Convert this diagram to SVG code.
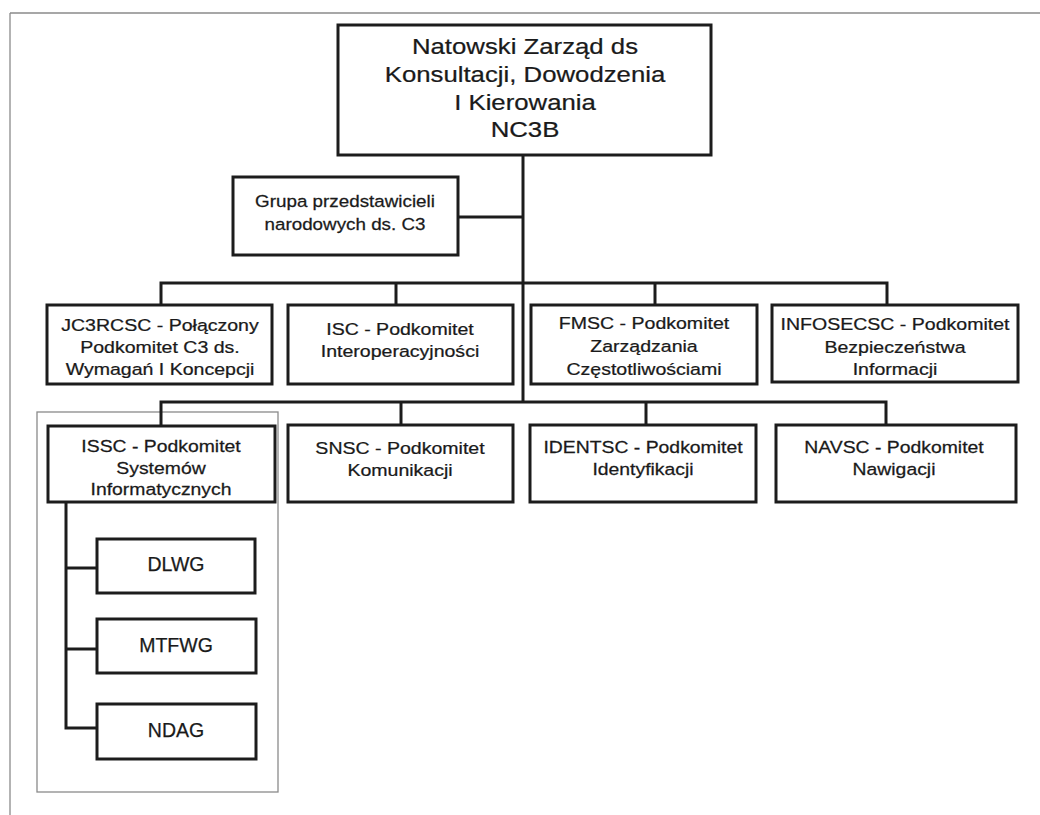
<svg xmlns="http://www.w3.org/2000/svg" width="1040" height="815" viewBox="0 0 1040 815">
<style>
.box{fill:#fff;stroke:#1c1c1c;stroke-width:3}
.ln{stroke:#1c1c1c;stroke-width:3;fill:none}
.frame{stroke:#8a8a8a;stroke-width:1.3;fill:none}
text{font-family:"Liberation Sans",Arial,sans-serif;fill:#1a1a1a;text-anchor:middle;stroke:#1a1a1a;stroke-width:0.25}
.t17{font-size:17px}
.t16{font-size:16.5px}
.t23{font-size:23px}
.t19{font-size:19.5px}
</style>
<rect width="1040" height="815" fill="#fff"/>
<g id="page-frame">
<line class="frame" x1="10" y1="13" x2="1040" y2="13"/>
<line class="frame" x1="10" y1="13" x2="10" y2="815"/>
<rect class="frame" x="37" y="412" width="241" height="380"/>
</g>
<g id="connectors">
<line class="ln" x1="523" y1="155" x2="523" y2="402"/>
<line class="ln" x1="458" y1="217" x2="523" y2="217"/>
<polyline class="ln" points="161,305 161,283 887,283 887,305"/>
<line class="ln" x1="396" y1="283" x2="396" y2="305"/>
<line class="ln" x1="655" y1="283" x2="655" y2="305"/>
<polyline class="ln" points="161,426 161,402 886,402 886,425"/>
<line class="ln" x1="401" y1="402" x2="401" y2="425"/>
<line class="ln" x1="646" y1="402" x2="646" y2="425"/>
<polyline class="ln" points="66,502 66,728 97,728"/>
<line class="ln" x1="66" y1="568" x2="97" y2="568"/>
<line class="ln" x1="66" y1="649" x2="97" y2="649"/>
</g>
<g id="nc3b">
<rect class="box" x="338" y="25" width="373" height="130"/>
<g transform="translate(525 0) scale(1.12 1)">
<text class="t23" x="0" y="54">Natowski Zarząd ds</text>
<text class="t23" x="0" y="82">Konsultacji, Dowodzenia</text>
<text class="t23" x="0" y="110">I  Kierowania</text>
<text class="t23" x="0" y="137">NC3B</text>
</g>
</g>
<g id="grupa">
<rect class="box" x="233" y="177" width="225" height="78"/>
<g transform="translate(345 0) scale(1.14 1)">
<text class="t16" x="0" y="207">Grupa przedstawicieli</text>
<text class="t16" x="0" y="230">narodowych ds. C3</text>
</g>
</g>
<g id="jc3rcsc">
<rect class="box" x="47" y="305" width="225" height="79"/>
<g transform="translate(160 0) scale(1.15 1)">
<text class="t17" x="0" y="331">JC3RCSC - Połączony</text>
<text class="t17" x="0" y="353">Podkomitet C3 ds.</text>
<text class="t17" x="0" y="375">Wymagań I Koncepcji</text>
</g>
</g>
<g id="isc">
<rect class="box" x="288" y="305" width="225" height="79"/>
<g transform="translate(400 0) scale(1.15 1)">
<text class="t17" x="0" y="335">ISC - Podkomitet</text>
<text class="t17" x="0" y="357">Interoperacyjności</text>
</g>
</g>
<g id="fmsc">
<rect class="box" x="531" y="305" width="226" height="79"/>
<g transform="translate(644 0) scale(1.15 1)">
<text class="t17" x="0" y="329">FMSC - Podkomitet</text>
<text class="t17" x="0" y="352">Zarządzania</text>
<text class="t17" x="0" y="375">Częstotliwościami</text>
</g>
</g>
<g id="infosecsc">
<rect class="box" x="772" y="305" width="246" height="77"/>
<g transform="translate(895 0) scale(1.15 1)">
<text class="t17" x="0" y="330">INFOSECSC - Podkomitet</text>
<text class="t17" x="0" y="353">Bezpieczeństwa</text>
<text class="t17" x="0" y="375">Informacji</text>
</g>
</g>
<g id="issc">
<rect class="box" x="48" y="426" width="227" height="76"/>
<g transform="translate(161 0) scale(1.14 1)">
<text class="t17" x="0" y="452">ISSC - Podkomitet</text>
<text class="t17" x="0" y="474">Systemów</text>
<text class="t17" x="0" y="495">Informatycznych</text>
</g>
</g>
<g id="snsc">
<rect class="box" x="288" y="425" width="225" height="77"/>
<g transform="translate(400 0) scale(1.15 1)">
<text class="t17" x="0" y="454">SNSC - Podkomitet</text>
<text class="t17" x="0" y="476">Komunikacji</text>
</g>
</g>
<g id="identsc">
<rect class="box" x="530" y="425" width="226" height="77"/>
<g transform="translate(643 0) scale(1.14 1)">
<text class="t17" x="0" y="453">IDENTSC - Podkomitet</text>
<text class="t17" x="0" y="475">Identyfikacji</text>
</g>
</g>
<g id="navsc">
<rect class="box" x="776" y="425" width="240" height="77"/>
<g transform="translate(894 0) scale(1.14 1)">
<text class="t17" x="0" y="453">NAVSC - Podkomitet</text>
<text class="t17" x="0" y="475">Nawigacji</text>
</g>
</g>
<g id="dlwg">
<rect class="box" x="97" y="539" width="158" height="54"/>
<text class="t19" x="176" y="571">DLWG</text>
</g>
<g id="mtfwg">
<rect class="box" x="97" y="619" width="159" height="54"/>
<text class="t19" x="176" y="652">MTFWG</text>
</g>
<g id="ndag">
<rect class="box" x="97" y="704" width="159" height="55"/>
<text class="t19" x="176" y="737">NDAG</text>
</g>
</svg>
